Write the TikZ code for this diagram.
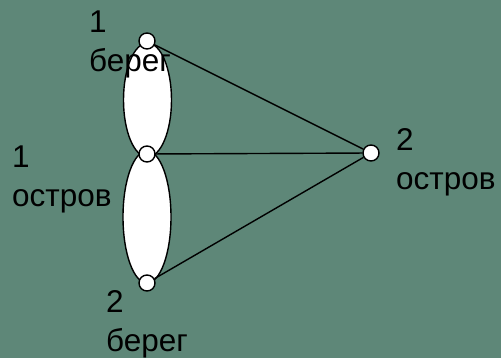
\documentclass[tikz,border=0pt]{standalone}
\usepackage{fontspec}
\setmainfont{Liberation Sans}
\definecolor{bg}{RGB}{94,135,120}
\begin{document}
\begin{tikzpicture}[x=1pt,y=-1pt,
  vert/.style={circle,draw=black,fill=white,line width=1.4pt,minimum size=16pt,inner sep=0pt},
  lbl/.style={anchor=base west,align=left,inner sep=0pt,font=\fontsize{31.5}{39}\selectfont},
  edgeline/.style={draw=black,line width=1.4pt},
  lens/.style={draw=black,fill=white,line width=1.4pt}]
\fill[bg] (0,0) rectangle (501,358);
\useasboundingbox (0,0) rectangle (501,358);
% multi-edges drawn as lenses
\path[lens] (147.5,100) ellipse [x radius=24pt, y radius=57pt];
\path[lens] (147,217) ellipse [x radius=24pt, y radius=66pt];
% labels (anchored at the baseline of the last line)
\node[lbl] (t1) at (89,72) {1\\берег};
\node[lbl] (t2) at (12,207) {1\\остров};
\node[lbl] (t3) at (396,190) {2\\остров};
\node[lbl] (t4) at (106,351) {2\\берег};
% vertices
\node[vert] (b1) at (147,41) {};
\node[vert] (i1) at (147,154) {};
\node[vert] (b2) at (147,283) {};
\node[vert] (i2) at (371,153) {};
% edges
\draw[edgeline] (b1) -- (i2);
\draw[edgeline] (i1) -- (i2);
\draw[edgeline] (b2) -- (i2);
\end{tikzpicture}
\end{document}
